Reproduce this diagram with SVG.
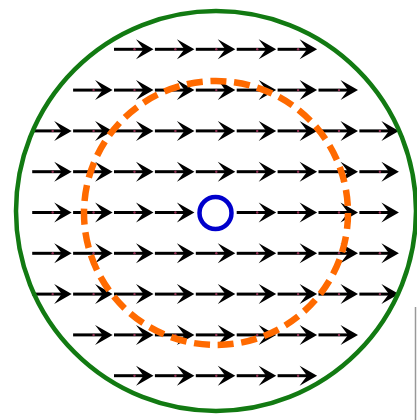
<svg xmlns="http://www.w3.org/2000/svg" xmlns:xlink="http://www.w3.org/1999/xlink" width="417" height="420" viewBox="0 0 417 420">
<style>
.shaft{stroke:#000;stroke-width:3;fill:none}
.head{fill:#000}
.dot{fill:#c04070;opacity:0.75}
.ring{fill:none}
</style>
<defs>
<g id="arrow">
<path class="shaft" d="M-19.5,0 H11"/>
<path class="head" d="M20,0 L2.5,-10 L10,0 L2.5,10 Z"/>
<circle class="dot" cx="1" cy="0" r="1.2"/>
</g>
</defs>
<rect width="417" height="420" fill="#fff"/>
<g id="connectors">
<use xlink:href="#arrow" x="133.5" y="49.3"/><use xlink:href="#arrow" x="174.4" y="49.3"/><use xlink:href="#arrow" x="215.3" y="49.3"/><use xlink:href="#arrow" x="256.2" y="49.3"/><use xlink:href="#arrow" x="297.1" y="49.3"/>
<use xlink:href="#arrow" x="92.6" y="90.1"/><use xlink:href="#arrow" x="133.5" y="90.1"/><use xlink:href="#arrow" x="174.4" y="90.1"/><use xlink:href="#arrow" x="215.3" y="90.1"/><use xlink:href="#arrow" x="256.2" y="90.1"/><use xlink:href="#arrow" x="297.1" y="90.1"/><use xlink:href="#arrow" x="338" y="90.1"/>
<use xlink:href="#arrow" x="51.7" y="130.9"/><use xlink:href="#arrow" x="92.6" y="130.9"/><use xlink:href="#arrow" x="133.5" y="130.9"/><use xlink:href="#arrow" x="174.4" y="130.9"/><use xlink:href="#arrow" x="215.3" y="130.9"/><use xlink:href="#arrow" x="256.2" y="130.9"/><use xlink:href="#arrow" x="297.1" y="130.9"/><use xlink:href="#arrow" x="338" y="130.9"/><use xlink:href="#arrow" x="378.9" y="130.9"/>
<use xlink:href="#arrow" x="51.7" y="171.7"/><use xlink:href="#arrow" x="92.6" y="171.7"/><use xlink:href="#arrow" x="133.5" y="171.7"/><use xlink:href="#arrow" x="174.4" y="171.7"/><use xlink:href="#arrow" x="215.3" y="171.7"/><use xlink:href="#arrow" x="256.2" y="171.7"/><use xlink:href="#arrow" x="297.1" y="171.7"/><use xlink:href="#arrow" x="338" y="171.7"/><use xlink:href="#arrow" x="378.9" y="171.7"/>
<use xlink:href="#arrow" x="51.7" y="212.5"/><use xlink:href="#arrow" x="92.6" y="212.5"/><use xlink:href="#arrow" x="133.5" y="212.5"/><use xlink:href="#arrow" x="174.4" y="212.5"/><use xlink:href="#arrow" x="256.2" y="212.5"/><use xlink:href="#arrow" x="297.1" y="212.5"/><use xlink:href="#arrow" x="338" y="212.5"/><use xlink:href="#arrow" x="378.9" y="212.5"/>
<use xlink:href="#arrow" x="51.7" y="253.3"/><use xlink:href="#arrow" x="92.6" y="253.3"/><use xlink:href="#arrow" x="133.5" y="253.3"/><use xlink:href="#arrow" x="174.4" y="253.3"/><use xlink:href="#arrow" x="215.3" y="253.3"/><use xlink:href="#arrow" x="256.2" y="253.3"/><use xlink:href="#arrow" x="297.1" y="253.3"/><use xlink:href="#arrow" x="338" y="253.3"/><use xlink:href="#arrow" x="378.9" y="253.3"/>
<use xlink:href="#arrow" x="51.7" y="294.1"/><use xlink:href="#arrow" x="92.6" y="294.1"/><use xlink:href="#arrow" x="133.5" y="294.1"/><use xlink:href="#arrow" x="174.4" y="294.1"/><use xlink:href="#arrow" x="215.3" y="294.1"/><use xlink:href="#arrow" x="256.2" y="294.1"/><use xlink:href="#arrow" x="297.1" y="294.1"/><use xlink:href="#arrow" x="338" y="294.1"/><use xlink:href="#arrow" x="378.9" y="294.1"/>
<use xlink:href="#arrow" x="92.6" y="334.9"/><use xlink:href="#arrow" x="133.5" y="334.9"/><use xlink:href="#arrow" x="174.4" y="334.9"/><use xlink:href="#arrow" x="215.3" y="334.9"/><use xlink:href="#arrow" x="256.2" y="334.9"/><use xlink:href="#arrow" x="297.1" y="334.9"/><use xlink:href="#arrow" x="338" y="334.9"/>
<use xlink:href="#arrow" x="133.5" y="375.7"/><use xlink:href="#arrow" x="174.4" y="375.7"/><use xlink:href="#arrow" x="215.3" y="375.7"/><use xlink:href="#arrow" x="256.2" y="375.7"/><use xlink:href="#arrow" x="297.1" y="375.7"/>
</g>
<g id="outer-circle"><circle class="ring" cx="216" cy="211" r="200" stroke="#127a12" stroke-width="4.5"/></g>
<g id="dashed-circle"><circle class="ring" cx="216" cy="213" r="132" stroke="#ff6a00" stroke-width="6.5" stroke-dasharray="16 7.7"/></g>
<g id="center-circle"><circle class="ring" cx="215.5" cy="213" r="16" stroke="#0000cc" stroke-width="4.5"/></g>
<g id="edge-mark"><line x1="415.5" y1="307" x2="415.5" y2="420" stroke="#999" stroke-width="1.5"/></g>
</svg>
